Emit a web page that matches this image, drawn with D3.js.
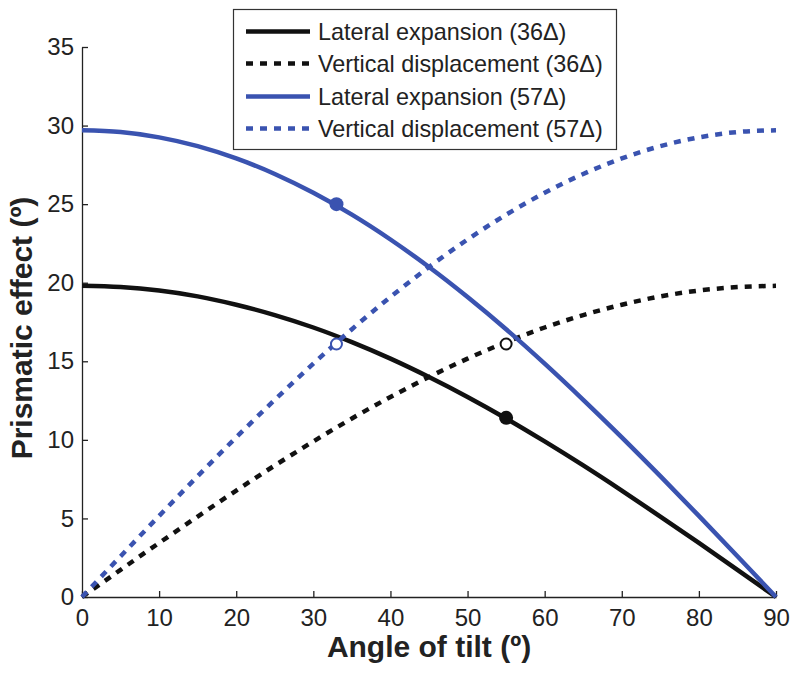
<!DOCTYPE html>
<html><head><meta charset="utf-8">
<script src="https://cdn.jsdelivr.net/npm/d3@7"></script>
<style>body{margin:0;background:#fff}svg{display:block}</style>
</head><body>
<svg id="c" width="800" height="674"></svg>
<script>
const angles = [0,5,10,15,20,25,30,35,40,45,50,55,60,65,70,75,80,85,90];
const lateral36 = [19.8,19.72,19.5,19.13,18.6,17.94,17.15,16.22,15.17,14.0,12.73,11.36,9.9,8.37,6.77,5.12,3.44,1.73,0];
const vertical36 = [0,1.73,3.44,5.12,6.77,8.37,9.9,11.36,12.73,14.0,15.17,16.22,17.15,17.94,18.6,19.13,19.5,19.72,19.8];
const lateral57 = [29.7,29.59,29.25,28.69,27.91,26.92,25.72,24.33,22.75,21.0,19.09,17.04,14.85,12.55,10.16,7.69,5.16,2.59,0];
const vertical57 = [0,2.59,5.16,7.69,10.16,12.55,14.85,17.04,19.09,21.0,22.75,24.33,25.72,26.92,27.91,28.69,29.25,29.59,29.7];
const seriesNames = ["Lateral expansion (36\u0394)","Vertical displacement (36\u0394)","Lateral expansion (57\u0394)","Vertical displacement (57\u0394)"];
const markerX = [55,55,33,33];
const markerY = [11.4,16.1,25.0,16.1];
const markerFilled = [true,false,true,false];
const xTicks = [0,10,20,30,40,50,60,70,80,90];
const yTicks = [0,5,10,15,20,25,30,35];

const BLUE = "#3a53b0", BLACK = "#111";
const series = [
  {name:seriesNames[0], vals:lateral36, color:BLACK, dash:null},
  {name:seriesNames[1], vals:vertical36, color:BLACK, dash:"7,7"},
  {name:seriesNames[2], vals:lateral57, color:BLUE, dash:null},
  {name:seriesNames[3], vals:vertical57, color:BLUE, dash:"7,7"}
];
const markerColors = [BLACK,BLACK,BLUE,BLUE];

const svg = d3.select("#c");
const L=82, R=776, T=47, B=597;
const x = d3.scaleLinear().domain([0,90]).range([L,R]);
const y = d3.scaleLinear().domain([0,35]).range([B,T]);
const font = "'Liberation Sans', Arial, Helvetica, sans-serif";

// axes
const xa = svg.append("g").attr("transform",`translate(0,${B})`)
  .call(d3.axisBottom(x).tickValues(xTicks).tickSizeInner(-6).tickSizeOuter(0).tickPadding(12));
const ya = svg.append("g").attr("transform",`translate(${L},0)`)
  .call(d3.axisLeft(y).tickValues(yTicks).tickSizeInner(-6).tickSizeOuter(0).tickPadding(8));
[xa,ya].forEach(a=>{
  a.selectAll("path,line").attr("stroke","#222").attr("stroke-width",1.3);
  a.selectAll("text").attr("font-family",font).attr("font-size",24).attr("fill","#222");
});

// lines
const line = d3.line().x((d,i)=>x(angles[i])).y(d=>y(d)).curve(d3.curveMonotoneX);
series.forEach(s=>{
  svg.append("path").datum(s.vals).attr("d",line).attr("fill","none")
    .attr("stroke",s.color).attr("stroke-width",4.5)
    .attr("stroke-dasharray",s.dash);
});

// markers
markerX.forEach((mx,i)=>{
  svg.append("circle").attr("cx",x(mx)).attr("cy",y(markerY[i])).attr("r",markerFilled[i]?7:5.5)
    .attr("fill",markerFilled[i]?markerColors[i]:"#fff")
    .attr("stroke",markerColors[i]).attr("stroke-width",markerFilled[i]?0:2);
});

// legend
const lg = svg.append("g");
lg.append("rect").attr("x",233.5).attr("y",9.5).attr("width",383).attr("height",140)
  .attr("fill","#fff").attr("stroke","#333").attr("stroke-width",1.2);
const rowsY = [31.5,63.5,96.5,128.5];
series.forEach((s,i)=>{
  lg.append("line").attr("x1",246).attr("x2",310).attr("y1",rowsY[i]).attr("y2",rowsY[i])
    .attr("stroke",s.color).attr("stroke-width",4.5).attr("stroke-dasharray",s.dash);
  lg.append("text").attr("x",318).attr("y",rowsY[i]).attr("dy","0.36em")
    .attr("font-family",font).attr("font-size",23.4).attr("fill","#222").text(s.name);
});

// axis titles
svg.append("text").attr("x",(L+R)/2).attr("y",657).attr("text-anchor","middle")
  .attr("font-family",font).attr("font-weight","bold").attr("font-size",30).attr("fill","#222")
  .text("Angle of tilt (\u00ba)");
svg.append("text").attr("transform",`translate(32,328) rotate(-90)`).attr("text-anchor","middle")
  .attr("font-family",font).attr("font-weight","bold").attr("font-size",30).attr("fill","#222")
  .text("Prismatic effect (\u00ba)");
</script>
</body></html>
